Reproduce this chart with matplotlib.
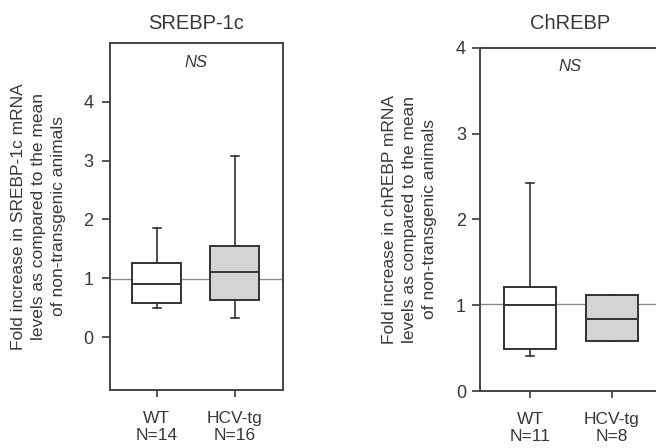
import matplotlib
matplotlib.use("Agg")
import matplotlib.pyplot as plt

plt.rcParams["font.family"] = ["Liberation Sans", "DejaVu Sans"]

groups = ["WT", "HCV-tg"]

# SREBP-1c: whisker low, Q1, median, Q3, whisker high
srebp_n = [14, 16]
srebp_wlo = [0.49, 0.32]
srebp_q1 = [0.58, 0.63]
srebp_med = [0.90, 1.11]
srebp_q3 = [1.26, 1.55]
srebp_whi = [1.86, 3.07]
srebp_ref = 0.98

# ChREBP
chrebp_n = [11, 8]
chrebp_wlo = [0.41, 0.58]
chrebp_q1 = [0.49, 0.58]
chrebp_med = [1.00, 0.84]
chrebp_q3 = [1.21, 1.12]
chrebp_whi = [2.42, 1.12]
chrebp_ref = 1.01

fills = ["white", "#d4d4d4"]
text_col = "#383838"
line_col = "#333333"


def make_stats(wlo, q1, med, q3, whi):
    return [dict(whislo=a, q1=b, med=c, q3=d, whishi=e, fliers=[])
            for a, b, c, d, e in zip(wlo, q1, med, q3, whi)]


def draw(ax, stats, n, ref, title, ylabel, ylim, yticks, xlim, label_x, title_pad, ypad):
    ax.axhline(ref, color="#8a8a8a", lw=1.0, zorder=1)
    bp = ax.bxp(stats, positions=[1, 2], widths=0.63, patch_artist=True,
                showfliers=False, capwidths=0.1,
                boxprops=dict(lw=1.4, edgecolor=line_col),
                medianprops=dict(lw=1.4, color=line_col),
                whiskerprops=dict(lw=1.2, color=line_col),
                capprops=dict(lw=1.2, color=line_col))
    for patch, fc in zip(bp["boxes"], fills):
        patch.set_facecolor(fc)
        patch.set_zorder(2)
    ax.set_xlim(*xlim)
    ax.set_ylim(*ylim)
    ax.set_yticks(yticks)
    ax.set_xticks([1, 2])
    ax.set_xticklabels([f"{g}\nN={k}" for g, k in zip(groups, n)],
                       fontsize=12.5, color=text_col, linespacing=1.15)
    ax.tick_params(axis="y", labelsize=13, colors=text_col, length=6, width=1.2, pad=ypad)
    ax.tick_params(axis="x", colors=text_col, length=5, width=1.2, pad=10)
    for s in ax.spines.values():
        s.set_color("#444444")
        s.set_linewidth(1.4)
    ax.set_title(title, fontsize=14.5, color=text_col, pad=title_pad)
    ax.text(0.5, 0.945, "NS", transform=ax.transAxes, ha="center", va="center",
            style="italic", fontsize=12, color=text_col)
    ax.text(label_x, 0.5, ylabel, transform=ax.transAxes, rotation=90,
            ha="center", va="center", fontsize=12.5, color=text_col,
            linespacing=1.4, multialignment="center")


fig = plt.figure(figsize=(6.56, 4.48), dpi=100)

ax1 = fig.add_axes([0.1677, 0.1295, 0.2637, 0.7746])
draw(ax1, make_stats(srebp_wlo, srebp_q1, srebp_med, srebp_q3, srebp_whi),
     srebp_n, srebp_ref, "SREBP-1c",
     "Fold increase in SREBP-1c mRNA\nlevels as compared to the mean\nof non-transgenic animals",
     (-0.9, 5.0), [0, 1, 2, 3, 4], (0.4, 2.62), -0.415, 10, 6)

ax2 = fig.add_axes([0.7317, 0.1272, 0.276, 0.766])
draw(ax2, make_stats(chrebp_wlo, chrebp_q1, chrebp_med, chrebp_q3, chrebp_whi),
     chrebp_n, chrebp_ref, "ChREBP",
     "Fold increase in chREBP mRNA\nlevels as compared to the mean\nof non-transgenic animals",
     (0, 4), [0, 1, 2, 3, 4], (0.39, 2.6), -0.39, 13.5, 4)

fig.savefig("out.png", dpi=100)
